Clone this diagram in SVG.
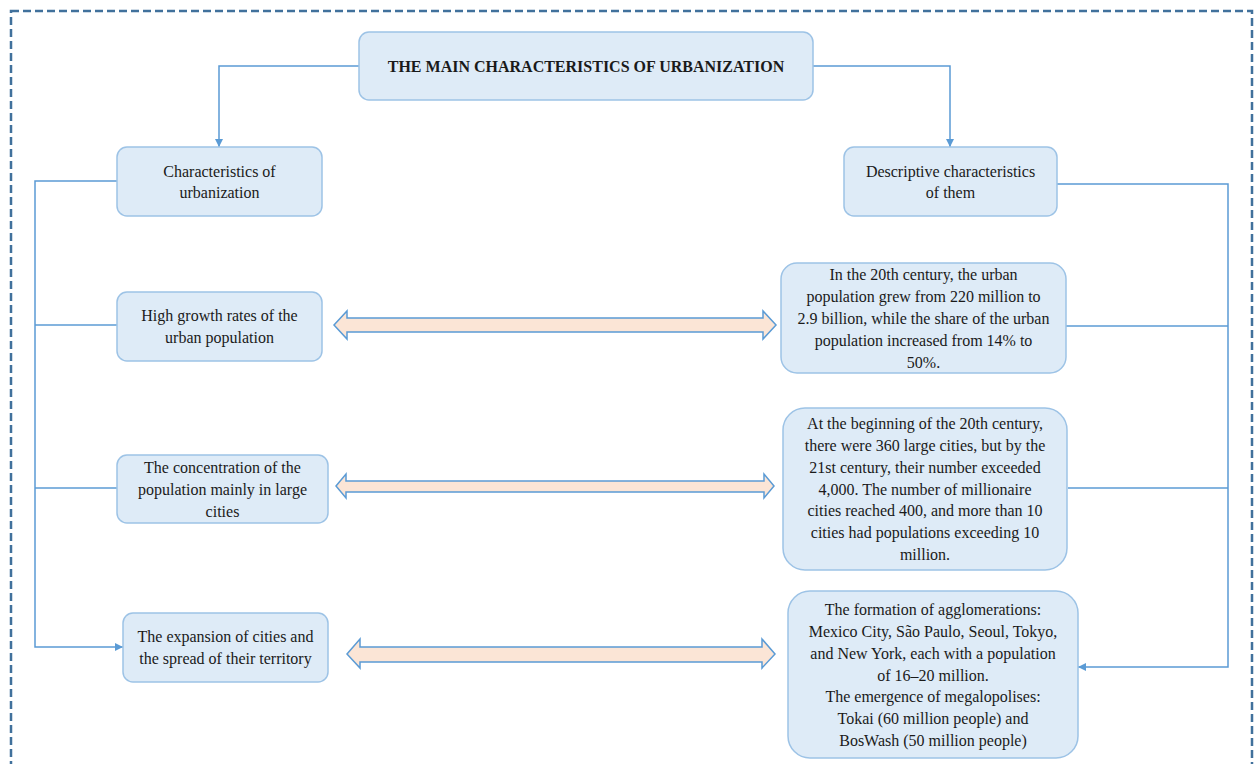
<svg xmlns="http://www.w3.org/2000/svg" width="1254" height="764" viewBox="0 0 1254 764">
<defs>
<style>
.box{fill:#DEEBF7;stroke:#9DC3E6;stroke-width:1.5}
.t{font-family:"Liberation Serif","Times New Roman",serif;font-size:16px;fill:#1a1a1a;text-anchor:middle}
.title{font-weight:bold;font-size:16px}
.con{fill:none;stroke:#5B9BD5;stroke-width:1.5}
.dbl{fill:#FBE5D6;stroke:#5B9BD5;stroke-width:1.5;stroke-linejoin:miter}
</style>
<marker id="ah" viewBox="0 0 10 10" refX="10" refY="5" markerWidth="8" markerHeight="8" markerUnits="userSpaceOnUse" orient="auto">
<path d="M0,0 L10,5 L0,10 z" fill="#5B9BD5"/>
</marker>
</defs>
<rect x="0" y="0" width="1254" height="764" fill="#ffffff"/>
<rect x="11" y="11" width="1241" height="800" fill="none" stroke="#41719C" stroke-width="2.5" stroke-dasharray="8,4"/>

<g id="connectors">
<path class="con" d="M359,66 H219 V147" marker-end="url(#ah)"/>
<path class="con" d="M813,66 H950 V147" marker-end="url(#ah)"/>
<path class="con" d="M117,181 H35 V647 H123" marker-end="url(#ah)"/>
<path class="con" d="M35,325 H117"/>
<path class="con" d="M35,488 H117"/>
<path class="con" d="M1057,184 H1228 V667 H1078" marker-end="url(#ah)"/>
<path class="con" d="M1066,326 H1228"/>
<path class="con" d="M1068,488 H1228"/>
<path class="dbl" d="M334,325 L347,311 L347,318 L763,318 L763,311 L776,325 L763,339 L763,332 L347,332 L347,339 Z"/>
<path class="dbl" d="M336,486 L346,474 L346,481 L764,481 L764,474 L774,486 L764,498 L764,492 L346,492 L346,498 Z"/>
<path class="dbl" d="M347,654 L360,639 L360,647 L762,647 L762,639 L775,654 L762,668 L762,662 L360,662 L360,668 Z"/>
</g>

<g id="title">
<rect class="box" x="359" y="32" width="454" height="68" rx="10"/>
<text class="t title" x="586" y="72">THE MAIN CHARACTERISTICS OF URBANIZATION</text>
</g>
<g id="characteristics">
<rect class="box" x="117" y="147" width="205" height="69" rx="10"/>
<text class="t" x="219.5" y="177">Characteristics of</text>
<text class="t" x="219.5" y="198">urbanization</text>
</g>
<g id="descriptive">
<rect class="box" x="844" y="147" width="213" height="69" rx="10"/>
<text class="t" x="950.5" y="177">Descriptive characteristics</text>
<text class="t" x="950.5" y="198">of them</text>
</g>
<g id="growth">
<rect class="box" x="117" y="292" width="205" height="69" rx="10"/>
<text class="t" x="219.5" y="321">High growth rates of the</text>
<text class="t" x="219.5" y="343">urban population</text>
</g>
<g id="concentration">
<rect class="box" x="117" y="455" width="211" height="68" rx="10"/>
<text class="t" x="222.5" y="473">The concentration of the</text>
<text class="t" x="222.5" y="495">population mainly in large</text>
<text class="t" x="222.5" y="517">cities</text>
</g>
<g id="expansion">
<rect class="box" x="123" y="613" width="205" height="69" rx="10"/>
<text class="t" x="225.5" y="642">The expansion of cities and</text>
<text class="t" x="225.5" y="664">the spread of their territory</text>
</g>
<g id="desc-growth">
<rect class="box" x="781" y="263" width="285" height="110" rx="16"/>
<text class="t" x="923.5" y="280">In the 20th century, the urban</text>
<text class="t" x="923.5" y="302">population grew from 220 million to</text>
<text class="t" x="923.5" y="324">2.9 billion, while the share of the urban</text>
<text class="t" x="923.5" y="346">population increased from 14% to</text>
<text class="t" x="923.5" y="368">50%.</text>
</g>
<g id="desc-concentration">
<rect class="box" x="783" y="408" width="284" height="162" rx="22"/>
<text class="t" x="925" y="429">At the beginning of the 20th century,</text>
<text class="t" x="925" y="451">there were 360 large cities, but by the</text>
<text class="t" x="925" y="473">21st century, their number exceeded</text>
<text class="t" x="925" y="495">4,000. The number of millionaire</text>
<text class="t" x="925" y="516">cities reached 400, and more than 10</text>
<text class="t" x="925" y="538">cities had populations exceeding 10</text>
<text class="t" x="925" y="560">million.</text>
</g>
<g id="desc-expansion">
<rect class="box" x="788" y="591" width="290" height="167" rx="22"/>
<text class="t" x="933" y="615">The formation of agglomerations:</text>
<text class="t" x="933" y="637">Mexico City, São Paulo, Seoul, Tokyo,</text>
<text class="t" x="933" y="659">and New York, each with a population</text>
<text class="t" x="933" y="681">of 16–20 million.</text>
<text class="t" x="933" y="702">The emergence of megalopolises:</text>
<text class="t" x="933" y="724">Tokai (60 million people) and</text>
<text class="t" x="933" y="746">BosWash (50 million people)</text>
</g>
</svg>
